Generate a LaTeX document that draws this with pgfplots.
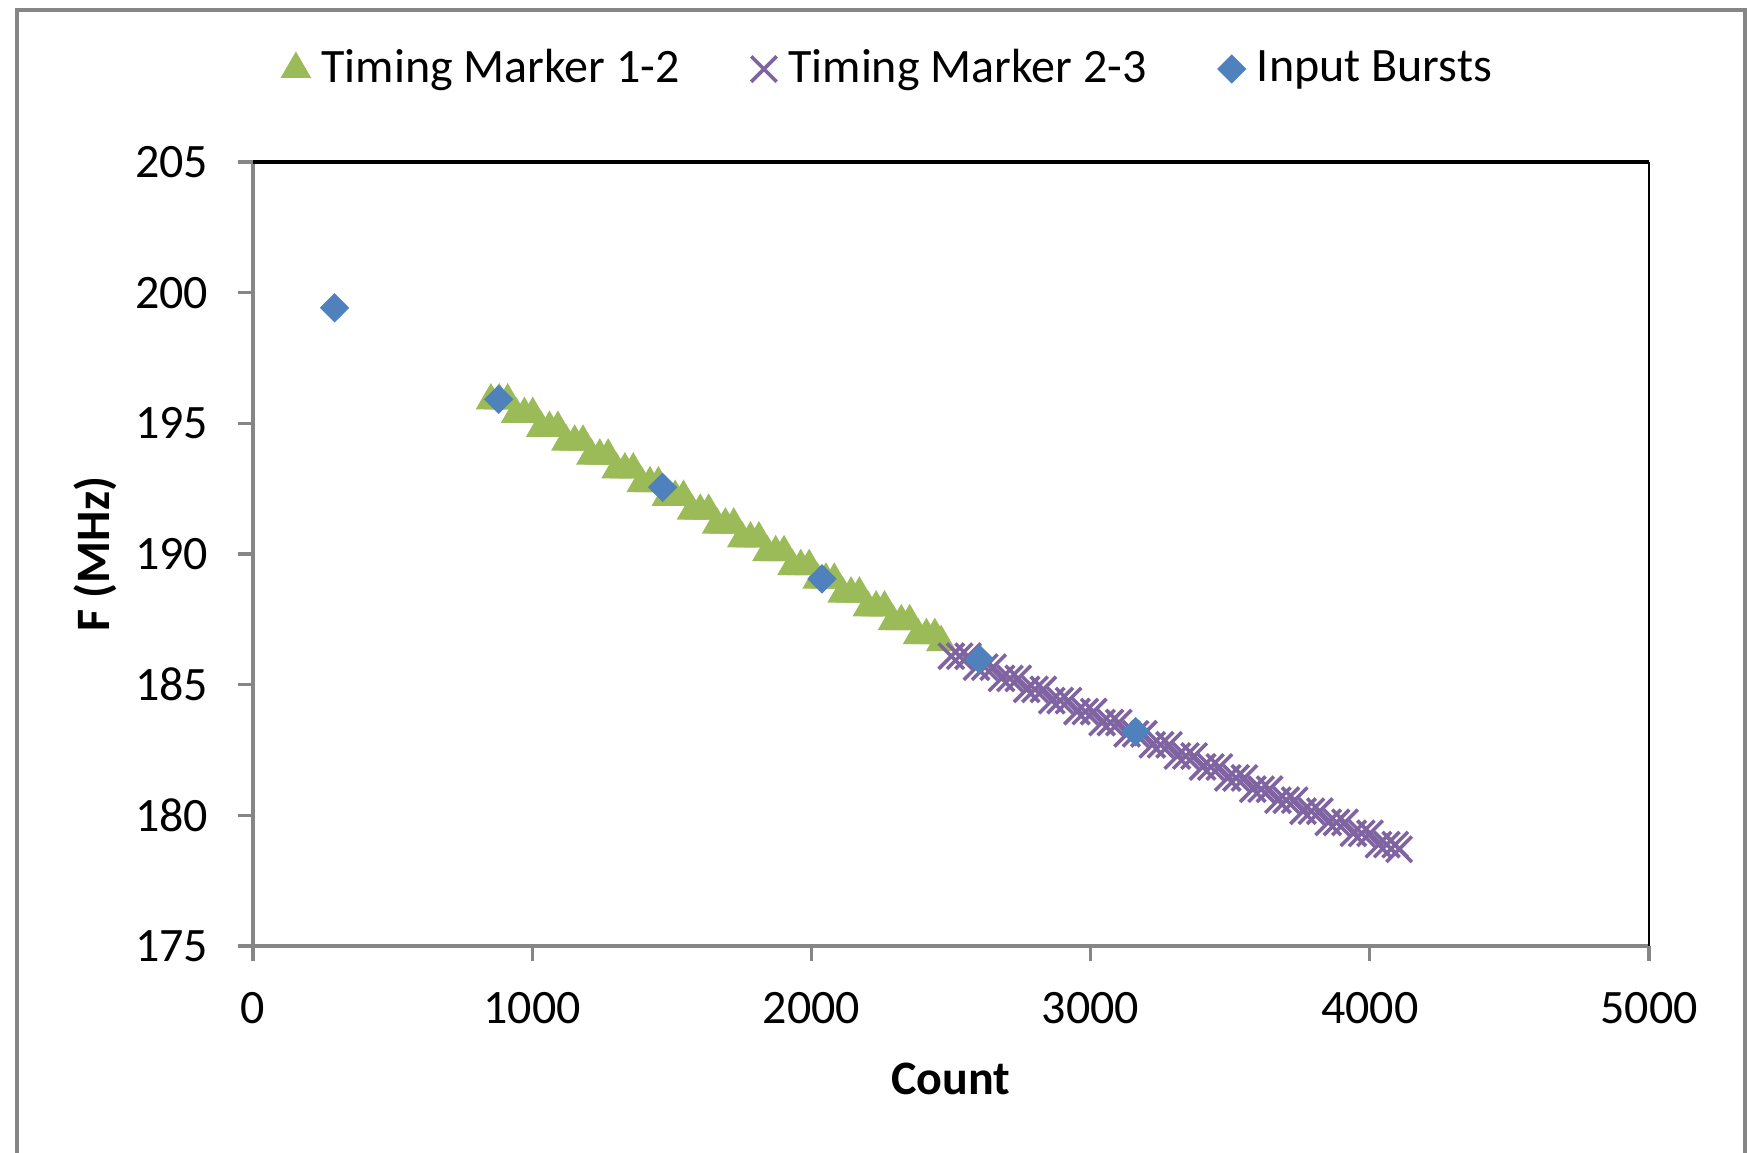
\documentclass[border=0pt]{standalone}
\usepackage{fontspec}
\setmainfont{Carlito}
\usepackage{pgfplots}
\pgfplotsset{compat=1.18}
\definecolor{tmgreen}{RGB}{155,187,89}
\definecolor{tmpurple}{RGB}{128,100,162}
\definecolor{ibblue}{RGB}{79,129,189}
\definecolor{axisgray}{RGB}{134,134,134}
\begin{document}
\begin{tikzpicture}
\useasboundingbox (0,0) rectangle (437.25bp,288.25bp);
\draw[axisgray, line width=1.2bp] (4.25bp,-5bp) -- (4.25bp,285.75bp) -- (436.25bp,285.75bp) -- (436.25bp,-5bp);
\begin{axis}[
  at={(63.25bp,51.75bp)}, anchor=south west,
  width=349bp, height=196bp, scale only axis,
  xmin=0, xmax=5000, ymin=175, ymax=205,
  xtick={0,1000,2000,3000,4000,5000},
  ytick={175,180,185,190,195,200,205},
  scaled x ticks=false,
  /pgf/number format/1000 sep={},
  /pgf/number format/assume math mode=true,
  axis x line*=bottom, axis y line*=left,
  axis line style={-, draw=axisgray, line width=1.1bp},
  tick align=outside, major tick length=3.75bp,
  tick style={draw=axisgray, line width=0.8bp},
  every tick label/.append style={font=\fontsize{12bp}{14bp}\selectfont, inner sep=0pt},
  xticklabel style={anchor=center, yshift=-11.85bp},
  yticklabel style={anchor=east, xshift=-7.25bp},
  xlabel={\textbf{Count}}, ylabel={\textbf{F (MHz)}},
  label style={font=\fontsize{12bp}{14bp}\selectfont},
  xlabel style={at={(axis description cs:0.5,-0.1691)}, anchor=center},
  ylabel style={at={(axis description cs:-0.1133,0.5)}, anchor=center},
  legend columns=-1,
  legend style={draw=none, fill=none, at={(axis description cs:0.4563,1.1186)}, anchor=center,
    font=\fontsize{12bp}{14bp}\selectfont,
    /tikz/every odd column/.append style={column sep=1.4bp},
    /tikz/every even column/.append style={column sep=16.4bp},
    nodes={inner sep=1.5bp}},
  legend image code/.code={\draw[mark repeat=2, mark phase=2, #1] plot coordinates {(0bp,0bp) (4bp,0bp) (8bp,0bp)};},
  clip=false,
]
\addplot[only marks, mark=triangle*, mark size=4bp, color=tmgreen, mark options={fill=tmgreen, draw=tmgreen}] coordinates {
(852,195.87) (882,195.87) (912,195.87)
(942,195.35) (972,195.35) (1002,195.35)
(1032,194.82) (1062,194.82) (1092,194.82)
(1122,194.29) (1152,194.29) (1182,194.29)
(1212,193.76) (1242,193.76) (1272,193.76)
(1302,193.23) (1332,193.23) (1362,193.23)
(1392,192.70) (1422,192.70) (1452,192.70)
(1482,192.18) (1512,192.18) (1542,192.18)
(1572,191.65) (1602,191.65) (1632,191.65)
(1662,191.12) (1692,191.12) (1722,191.12)
(1752,190.59) (1782,190.59) (1812,190.59)
(1842,190.06) (1872,190.06) (1902,190.06)
(1932,189.53) (1962,189.53) (1992,189.53)
(2022,189.01) (2052,189.01) (2082,189.01)
(2112,188.48) (2142,188.48) (2172,188.48)
(2202,187.95) (2232,187.95) (2262,187.95)
(2292,187.42) (2322,187.42) (2352,187.42)
(2382,186.89) (2412,186.89) (2442,186.89)
(2465,186.62)
};
\addlegendentry{Timing Marker 1-2}
\addplot[only marks, mark=x, mark size=4.5bp, color=tmpurple, mark options={line width=0.9bp}] coordinates {
(2501,186.09) (2531,186.09) (2561,186.09)
(2591,185.67) (2621,185.67) (2651,185.67)
(2681,185.24) (2711,185.24) (2741,185.24)
(2771,184.82) (2801,184.82) (2831,184.82)
(2861,184.39) (2891,184.39) (2921,184.39)
(2951,183.97) (2981,183.97) (3011,183.97)
(3041,183.55) (3071,183.55) (3101,183.55)
(3131,183.12) (3161,183.12) (3191,183.12)
(3221,182.70) (3251,182.70) (3281,182.70)
(3311,182.27) (3341,182.27) (3371,182.27)
(3401,181.85) (3431,181.85) (3461,181.85)
(3491,181.43) (3521,181.43) (3551,181.43)
(3581,181.00) (3611,181.00) (3641,181.00)
(3671,180.58) (3701,180.58) (3731,180.58)
(3761,180.16) (3791,180.16) (3821,180.16)
(3851,179.73) (3881,179.73) (3911,179.73)
(3941,179.31) (3971,179.31) (4001,179.31)
(4031,178.88) (4061,178.88) (4091,178.88)
(4105,178.70)
};
\addlegendentry{Timing Marker 2-3}
\addplot[only marks, mark=square*, mark size=2.4bp, color=ibblue, mark options={rotate=45, fill=ibblue, draw=ibblue}] coordinates {
(292,199.42) (880,195.92) (1467,192.55) (2038,189.05) (2601,185.98) (3161,183.20)
};
\addlegendentry{Input Bursts}
\draw[black, line width=1.1bp] (rel axis cs:0,1) -- (rel axis cs:1,1);
\draw[black, line width=0.6bp] (rel axis cs:1,1) -- (rel axis cs:1,0);
\end{axis}
\end{tikzpicture}
\end{document}
